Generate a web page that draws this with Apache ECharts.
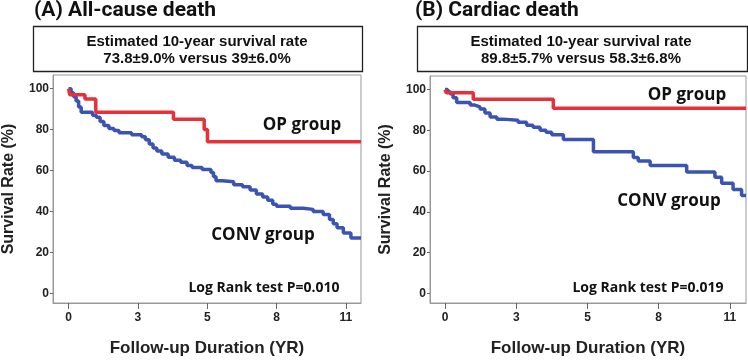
<!DOCTYPE html>
<html><head><meta charset="utf-8">
<script src="https://cdn.jsdelivr.net/npm/echarts@6/dist/echarts.min.js"></script>
<style>html,body{margin:0;padding:0;background:#fff}#c{width:748px;height:362px}</style>
</head><body><div id="c"></div>
<script>
// ---- data ----
const xTickValues = [0, 2.75, 5.5, 8.25, 11];
const xTickLabels = ['0', '3', '5', '8', '11'];
const yTickValues = [0, 20, 40, 60, 80, 100];

const allCauseOP = [[0,100],[0.05,97],[0.65,95],[1.08,88.5],[4.16,85],[5.38,80],[5.51,74],[11.6,74]];
const allCauseCONV = [[0,100],[0.1,98],[0.2,96],[0.3,94],[0.4,91],[0.5,88.5],[0.95,87],[1.1,86],[1.25,84],[1.4,82],[1.6,80.5],[1.8,79.5],[2.0,78.5],[2.5,77.5],[2.9,76.5],[3.05,75],[3.2,73],[3.35,71],[3.5,69.5],[3.7,68],[3.95,66.5],[4.2,65],[4.45,64],[4.7,62.5],[4.9,61.5],[5.3,60.5],[5.65,59],[5.75,57],[5.85,55],[6.1,54.5],[6.55,53],[6.9,52],[7.2,50.5],[7.45,48.5],[7.7,47],[7.9,45.5],[8.1,43.5],[8.25,42.5],[8.8,41.5],[9.3,41],[9.7,40],[10.1,38.5],[10.35,36],[10.5,34],[10.65,32],[10.9,29.5],[11.2,27],[11.6,27]];

const cardiacOP = [[0,100],[0.05,98.4],[1.09,95.2],[4.18,90.8],[11.62,90.8]];
const cardiacCONV = [[0,100],[0.1,99],[0.19,98],[0.31,96],[0.45,93.7],[0.97,92.4],[1.15,91.5],[1.35,90.5],[1.54,88.5],[1.74,86.5],[2.0,85.5],[2.24,85],[2.82,84],[3.15,82.5],[3.4,81.5],[3.67,80],[3.9,79],[4.12,77.8],[4.57,75.5],[5.73,69.5],[7.27,66.7],[7.46,65],[7.92,62.7],[9.33,59.5],[10.42,57],[10.68,54],[11.12,51],[11.45,48],[11.62,48]];

const panelTitles = ['(A) All-cause death', '(B) Cardiac death'];
const boxLine1 = 'Estimated 10-year survival rate';
const boxLine2 = ['73.8\u00b19.0% versus 39\u00b16.0%', '89.8\u00b15.7% versus 58.3\u00b16.8%'];
const pValues = ['Log Rank test P=0.010', 'Log Rank test P=0.019'];

// ---- chart ----
const RED = '#e6303a', BLUE = '#3b53b3';
const ARIAL = '"Liberation Sans", Arial, sans-serif';
const GOTHIC = '"Open Sans", "Noto Sans", sans-serif';
const TITLEF = 'Roboto, "Noto Sans", sans-serif';
const chart = echarts.init(document.getElementById('c'), null, {renderer: 'canvas'});
const grids = [
  {left: 50, top: 75, width: 311, height: 234},
  {left: 430, top: 76, width: 316, height: 234}
];
const xRanges = [[-0.617, 11.6], [-0.58, 11.62]];
const axisFont = {fontFamily: ARIAL, fontWeight: 'bold', color: '#222'};

function xAxis(i) {
  return {
    type: 'value', gridIndex: i, min: xRanges[i][0], max: xRanges[i][1],
    name: 'Follow-up Duration (YR)', nameLocation: 'middle', nameGap: 37,
    nameTextStyle: Object.assign({fontSize: 17}, axisFont),
    axisLine: {show: true, onZero: false, lineStyle: {color: '#999'}},
    axisTick: {show: true, length: 6, customValues: xTickValues, lineStyle: {color: '#666'}},
    axisLabel: Object.assign({fontSize: 12, margin: 9, customValues: xTickValues,
      formatter: v => { const k = xTickValues.findIndex(t => Math.abs(t - v) < 1e-6); return k >= 0 ? xTickLabels[k] : ''; }}, axisFont),
    splitLine: {show: false}
  };
}
function yAxis(i) {
  return {
    type: 'value', gridIndex: i, min: -4.76, max: 106.67,
    name: 'Survival Rate (%)', nameLocation: 'middle', nameGap: 36, nameRotate: 90,
    nameTextStyle: Object.assign({fontSize: 16}, axisFont),
    axisLine: {show: true, onZero: false, lineStyle: {color: '#999'}},
    axisTick: {show: true, length: 3, customValues: yTickValues, lineStyle: {color: '#666'}},
    axisLabel: Object.assign({fontSize: 12, margin: 4, customValues: yTickValues}, axisFont),
    splitLine: {show: false}
  };
}
function line(i, data, color, z) {
  return {type: 'line', xAxisIndex: i, yAxisIndex: i, data: data, step: 'end', showSymbol: false,
    symbol: 'none', lineStyle: {color: color, width: 3.5}, z: z, animation: false, clip: true};
}

const textStyleBold = (size, family) => ({fontFamily: family, fontWeight: 'bold', fontSize: size, fill: '#111'});
const graphics = [];
const boxes = [{x: 33, w: 329, cx: 197}, {x: 417, w: 330, cx: 581}];
for (let i = 0; i < 2; i++) {
  graphics.push({type: 'rect', shape: {x: boxes[i].x + 0.5, y: 26.5, width: boxes[i].w, height: 45},
    style: {fill: '#fff', stroke: '#222', lineWidth: 1.3}});
  graphics.push({type: 'text', x: boxes[i].cx, y: 42,
    style: Object.assign({text: boxLine1, align: 'center', verticalAlign: 'middle'}, textStyleBold(15, ARIAL))});
  graphics.push({type: 'text', x: boxes[i].cx, y: 59,
    style: Object.assign({text: boxLine2[i], align: 'center', verticalAlign: 'middle'}, textStyleBold(15, ARIAL))});
}
const notes = [
  {x: 302, y: 125, t: 'OP group', s: 17}, {x: 263, y: 235, t: 'CONV group', s: 17}, {x: 264, y: 288, t: pValues[0], s: 14},
  {x: 687, y: 95, t: 'OP group', s: 17}, {x: 669, y: 201, t: 'CONV group', s: 17}, {x: 648, y: 288, t: pValues[1], s: 14}
];
notes.forEach(n => graphics.push({type: 'text', x: n.x, y: n.y, z: 10,
  style: Object.assign({text: n.t, align: 'center', verticalAlign: 'middle'}, textStyleBold(n.s, GOTHIC))}));

chart.setOption({
  animation: false,
  backgroundColor: '#fff',
  title: [
    {text: panelTitles[0], left: 34, top: 0, padding: 0,
      textStyle: {fontFamily: TITLEF, fontWeight: 'bold', fontSize: 21, color: '#111'}},
    {text: panelTitles[1], left: 415, top: 0, padding: 0,
      textStyle: {fontFamily: TITLEF, fontWeight: 'bold', fontSize: 21, color: '#111'}}
  ],
  grid: grids.map(g => Object.assign({show: true, borderColor: '#999', borderWidth: 1, backgroundColor: 'transparent'}, g)),
  xAxis: [xAxis(0), xAxis(1)],
  yAxis: [yAxis(0), yAxis(1)],
  series: [
    line(0, allCauseCONV, BLUE, 3), line(0, allCauseOP, RED, 4),
    line(1, cardiacCONV, BLUE, 3), line(1, cardiacOP, RED, 4)
  ],
  graphic: graphics
});
</script></body></html>
